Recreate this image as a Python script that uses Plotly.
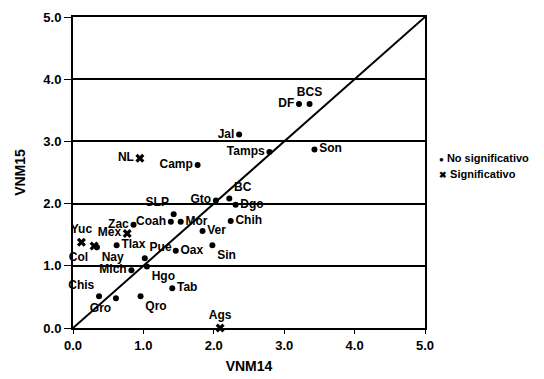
import plotly.graph_objects as go

# ---- data ----
states = ["Ags", "BC", "BCS", "Camp", "Coah", "Col", "Chis", "Chih", "DF", "Dgo",
          "Gto", "Gro", "Hgo", "Jal", "Mex", "Mich", "Mor", "Nay", "NL", "Oax",
          "Pue", "Qro", "SLP", "Sin", "Son", "Tab", "Tamps", "Tlax", "Ver", "Yuc", "Zac"]
vnm14 = [2.09, 2.22, 3.36, 1.77, 1.39, 0.30, 0.37, 2.24, 3.21, 2.31,
         2.03, 0.61, 1.05, 2.36, 0.77, 0.83, 1.53, 0.34, 0.95, 1.46,
         1.02, 0.96, 1.43, 1.98, 3.43, 1.41, 2.79, 0.62, 1.84, 0.12, 0.86]
vnm15 = [0.00, 2.08, 3.60, 2.62, 1.71, 1.32, 0.51, 1.72, 3.60, 1.98,
         2.05, 0.48, 0.99, 3.11, 1.52, 0.93, 1.71, 1.30, 2.73, 1.24,
         1.12, 0.51, 1.83, 1.33, 2.87, 0.64, 2.83, 1.33, 1.56, 1.38, 1.66]
significant = ["Ags", "Col", "Mex", "NL", "Yuc"]
diag_x = [0, 5]
diag_y = [0, 5]
tick_vals = [0, 1, 2, 3, 4, 5]
tick_text = ["0.0", "1.0", "2.0", "3.0", "4.0", "5.0"]

# ---- label placement (style) ----
label_pos = {
    "Ags": "top center", "BC": "top right", "BCS": "top center", "Camp": "middle left",
    "Coah": "middle left", "Col": "bottom left", "Chis": "top left", "Chih": "middle right",
    "DF": "middle left", "Dgo": "middle right", "Gto": "middle left", "Gro": "bottom left",
    "Hgo": "bottom right", "Jal": "middle left", "Mex": "middle left", "Mich": "middle left",
    "Mor": "middle right", "Nay": "bottom right", "NL": "middle left", "Oax": "middle right",
    "Pue": "top right", "Qro": "bottom right", "SLP": "top left", "Sin": "bottom right",
    "Son": "middle right", "Tab": "middle right", "Tamps": "middle left", "Tlax": "middle right",
    "Ver": "middle right", "Yuc": "top center", "Zac": "middle left",
}

FONT = "Liberation Sans, Arial, sans-serif"

fig = go.Figure()

fig.add_trace(go.Scatter(x=diag_x, y=diag_y, mode="lines",
                         line=dict(color="black", width=2), showlegend=False,
                         hoverinfo="skip"))

idx_ns = [i for i, s in enumerate(states) if s not in significant]
idx_s = [i for i, s in enumerate(states) if s in significant]

fig.add_trace(go.Scatter(
    x=[vnm14[i] for i in idx_ns], y=[vnm15[i] for i in idx_ns],
    text=[states[i] for i in idx_ns],
    textposition=[label_pos[states[i]] for i in idx_ns],
    mode="markers+text", cliponaxis=False,
    marker=dict(symbol="circle", size=6, color="black"),
    textfont=dict(family=FONT, size=12, color="black", weight="bold"),
    name="No significativo", showlegend=False))

fig.add_trace(go.Scatter(
    x=[vnm14[i] for i in idx_s], y=[vnm15[i] for i in idx_s],
    text=[states[i] for i in idx_s],
    textposition=[label_pos[states[i]] for i in idx_s],
    mode="markers+text", cliponaxis=False,
    marker=dict(symbol="x", size=8, color="black"),
    textfont=dict(family=FONT, size=12, color="black", weight="bold"),
    name="Significativo", showlegend=False))

# manual legend
fig.add_annotation(xref="paper", yref="paper", x=1.035, y=0.548, xanchor="left", yanchor="middle",
                   text="<span style='font-size:8px'>●</span> No significativo", showarrow=False,
                   font=dict(family=FONT, size=11, color="black", weight="bold"))
fig.add_annotation(xref="paper", yref="paper", x=1.035, y=0.495, xanchor="left", yanchor="middle",
                   text="<span style='font-size:9px'>✖</span> Significativo", showarrow=False,
                   font=dict(family=FONT, size=11, color="black", weight="bold"))

fig.update_xaxes(range=[0, 5], showgrid=False, zeroline=False, showline=True,
                 linecolor="black", linewidth=2, mirror=True, ticks="outside",
                 ticklen=4, tickcolor="black", tickvals=tick_vals, ticktext=tick_text,
                 automargin=False,
                 tickfont=dict(family=FONT, size=13, color="black", weight="bold"),
                 title=dict(text="VNM14", standoff=10,
                            font=dict(family=FONT, size=14, color="black", weight="bold")))
fig.update_yaxes(range=[0, 5], showgrid=True, gridcolor="black", gridwidth=1.5,
                 zeroline=False, showline=True, linecolor="black", linewidth=2, mirror=True,
                 ticks="outside", ticklen=7, tickcolor="black", tickvals=tick_vals,
                 ticktext=tick_text, automargin=False,
                 tickfont=dict(family=FONT, size=13, color="black", weight="bold"),
                 title=dict(text="VNM15", standoff=14,
                            font=dict(family=FONT, size=14, color="black", weight="bold")))

fig.update_layout(width=544, height=379, margin=dict(l=65, r=127, t=9, b=59),
                  paper_bgcolor="white", plot_bgcolor="white", showlegend=False)

fig.write_html("out.html")
